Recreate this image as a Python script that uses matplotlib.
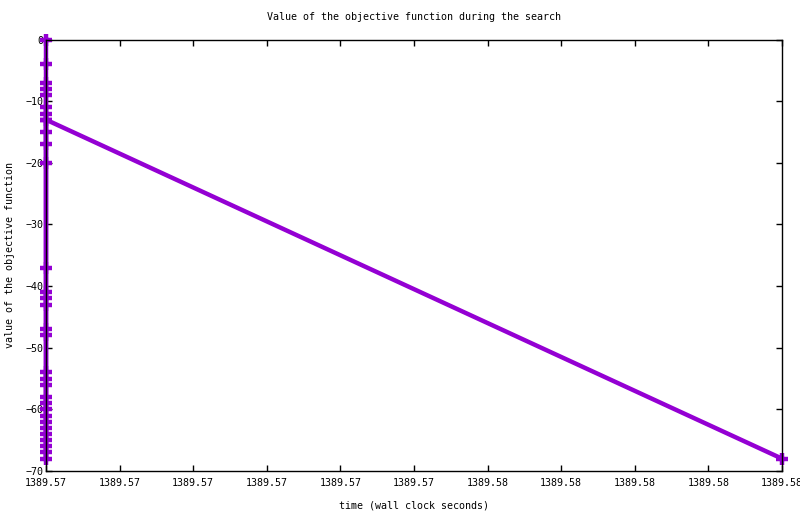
import matplotlib
matplotlib.use("Agg")
import matplotlib.pyplot as plt
from matplotlib.ticker import FixedLocator, FormatStrFormatter

# Search trace: objective value over wall clock time
T0 = 1389.5698
T1 = 1389.5798
values = [0, -4, -7, -8, -9, -11, -12, -13, -15, -17, -20, -37, -41, -42, -43,
          -47, -48, -54, -55, -56, -58, -59, -60, -61, -62, -63, -64, -65, -66,
          -67, -68, -13, -68]
times = [T0] * (len(values) - 1) + [T1]

x_ticks = [T0 + k * 0.001 for k in range(11)]
y_ticks = [0, -10, -20, -30, -40, -50, -60, -70]

plt.rcParams['font.family'] = ['DejaVu Sans Mono']

fig = plt.figure(figsize=(8, 5.14), dpi=100)
ax = fig.add_axes([0.0575, 0.0837, 0.92, 0.8393])

ax.plot(times, values, color='#9400d3', linewidth=3.2, marker='+',
        markersize=8, markeredgewidth=3.2, clip_on=False, zorder=2)

ax.set_xlim(T0, T1)
ax.set_ylim(-70, 0)
ax.xaxis.set_major_locator(FixedLocator(x_ticks))
ax.xaxis.set_major_formatter(FormatStrFormatter('%.2f'))
ax.set_yticks(y_ticks)

ax.tick_params(direction='in', length=4, width=1, labelsize=7.2, color='black',
               top=True, right=True)
ax.tick_params(axis='x', pad=5)
ax.tick_params(axis='y', pad=2)
for s in ax.spines.values():
    s.set_zorder(5)
    s.set_linewidth(1)

ax.set_title("Value of the objective function during the search", fontsize=7.2, pad=14)
ax.set_xlabel("time (wall clock seconds)", fontsize=7.2, labelpad=9)
ax.set_ylabel("value of the objective function", fontsize=7.2, labelpad=7)

fig.savefig("out.png", dpi=100)
